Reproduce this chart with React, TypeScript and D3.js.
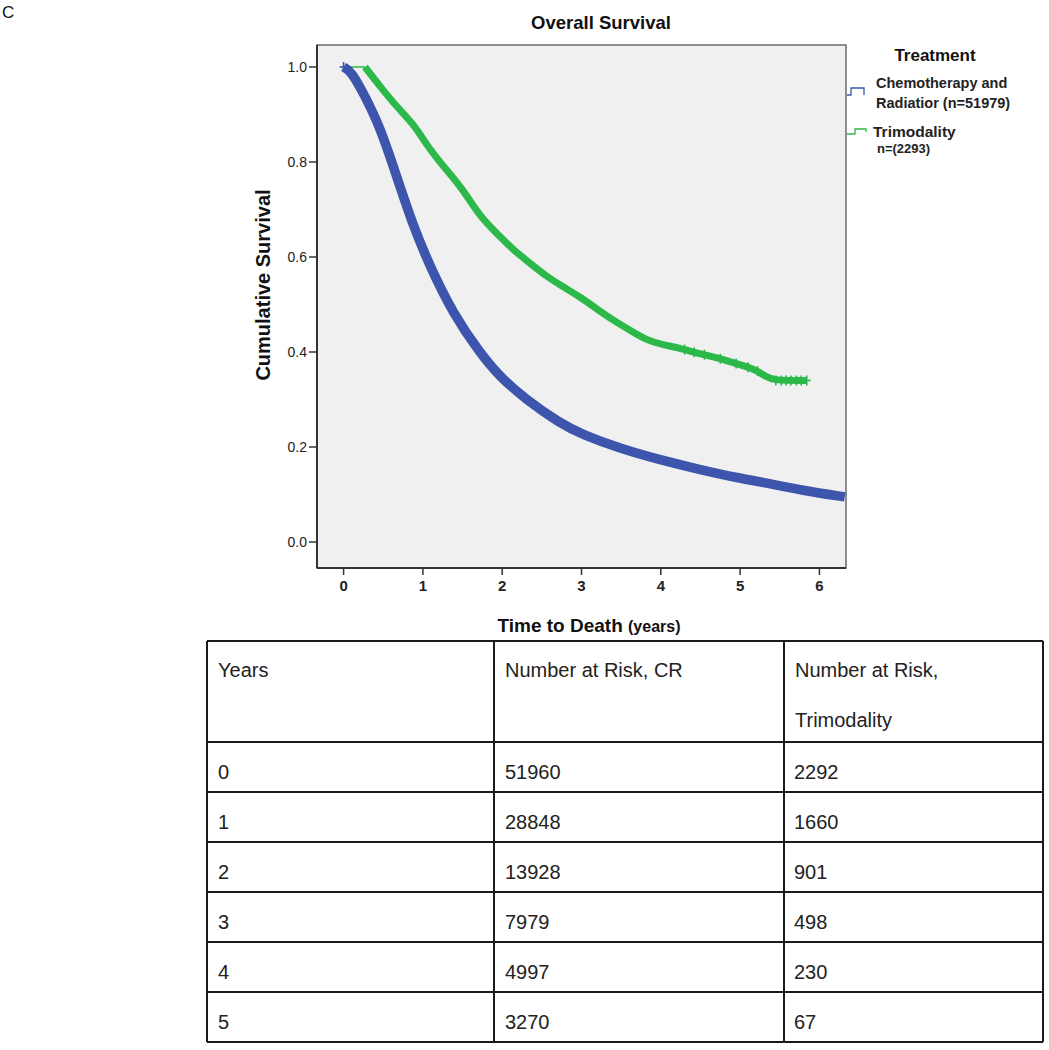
import React from 'react';
import * as d3 from 'd3';

// survival curves: [years, cumulative survival]
const crCurve: [number, number][] = [
  [0, 1.0], [0.1, 0.99], [0.25, 0.945], [0.46, 0.874], [0.67, 0.769], [0.88, 0.664],
  [1.09, 0.58], [1.38, 0.481], [1.72, 0.398], [1.97, 0.348], [2.3, 0.3], [2.73, 0.25],
  [3.0, 0.227], [3.5, 0.196], [3.99, 0.173], [4.5, 0.152], [5.0, 0.134], [5.25, 0.127],
  [5.8, 0.108], [6.32, 0.095],
];

const triLead: [number, number][] = [[0, 1.0], [0.27, 1.0]];

const triCurve: [number, number][] = [
  [0.27, 1.0], [0.46, 0.959], [0.67, 0.916], [0.88, 0.881], [1.09, 0.825], [1.3, 0.783],
  [1.51, 0.741], [1.72, 0.685], [1.93, 0.65], [2.14, 0.615], [2.35, 0.587], [2.56, 0.559],
  [2.77, 0.537], [2.98, 0.516], [3.2, 0.49], [3.4, 0.467], [3.62, 0.445], [3.82, 0.425],
  [4.03, 0.415], [4.24, 0.408], [4.45, 0.398], [4.66, 0.39], [4.87, 0.38], [5.08, 0.369],
  [5.2, 0.362], [5.33, 0.348], [5.42, 0.34], [5.84, 0.34],
];

// censor marks visible along the trimodality tail
const triCensor = [4.3, 4.42, 4.55, 4.75, 4.95, 5.1, 5.22, 5.45, 5.52, 5.58, 5.64, 5.71, 5.77, 5.84];

const xTicks = [0, 1, 2, 3, 4, 5, 6];
const yTicks = [0, 0.2, 0.4, 0.6, 0.8, 1.0];

const tableHeader = [['Years'], ['Number at Risk, CR'], ['Number at Risk,', 'Trimodality']];
const years = ['0', '1', '2', '3', '4', '5'];
const atRiskCR = ['51960', '28848', '13928', '7979', '4997', '3270'];
const atRiskTri = ['2292', '1660', '901', '498', '230', '67'];

const BLUE = '#3d55ad';
const GREEN = '#2db84a';
const FONT = 'Arial, "Liberation Sans", sans-serif';

const plot = { left: 317, right: 846, top: 45, bottom: 568 };

const x = d3.scaleLinear().domain([0, 6]).range([343.6, 819.4]);
const y = d3.scaleLinear().domain([0, 1]).range([542, 67]);

const line = d3
  .line<[number, number]>()
  .x((d) => x(d[0]))
  .y((d) => y(d[1]))
  .curve(d3.curveBasis);

const stepLine = d3
  .line<[number, number]>()
  .x((d) => x(d[0]))
  .y((d) => y(d[1]));

const survAt = (curve: [number, number][], t: number) => {
  const i = d3.bisector((d: [number, number]) => d[0]).left(curve, t);
  if (i <= 0) return curve[0][1];
  if (i >= curve.length) return curve[curve.length - 1][1];
  const a = curve[i - 1];
  const b = curve[i];
  return a[1] + ((t - a[0]) / (b[0] - a[0])) * (b[1] - a[1]);
};

const cols = [207, 494, 784, 1043];
const tableTop = 641;
const headerH = 101;
const rowH = 50;

const App = () => {
  const rowTops = years.map((_, i) => tableTop + headerH + i * rowH);
  const tableBottom = tableTop + headerH + years.length * rowH;

  return (
    <svg
      width={1049}
      height={1050}
      style={{ position: 'absolute', left: 0, top: 0, background: '#fff' }}
      fontFamily={FONT}
    >
      <text x={2} y={18} fontSize={17} fill="#111">C</text>

      <text x={601} y={29} textAnchor="middle" fontSize={18.5} fontWeight="bold" fill="#111">
        Overall Survival
      </text>

      {/* plot area */}
      <rect
        x={plot.left}
        y={plot.top}
        width={plot.right - plot.left}
        height={plot.bottom - plot.top}
        fill="#f0f0f0"
        stroke="#6a6a6a"
        strokeWidth={1.5}
      />
      <line x1={plot.left} x2={plot.left} y1={plot.top} y2={plot.bottom} stroke="#333" strokeWidth={2} />
      <line x1={plot.left} x2={plot.right} y1={plot.bottom} y2={plot.bottom} stroke="#333" strokeWidth={2} />

      {yTicks.map((t) => (
        <g key={`y${t}`}>
          <line x1={plot.left - 8} x2={plot.left} y1={y(t)} y2={y(t)} stroke="#333" strokeWidth={1.5} />
          <text x={plot.left - 10} y={y(t) + 5} textAnchor="end" fontSize={14} fill="#222">
            {d3.format('.1f')(t)}
          </text>
        </g>
      ))}
      {xTicks.map((t) => (
        <g key={`x${t}`}>
          <line x1={x(t)} x2={x(t)} y1={plot.bottom} y2={plot.bottom + 7} stroke="#333" strokeWidth={1.5} />
          <text x={x(t)} y={plot.bottom + 23} textAnchor="middle" fontSize={15} fontWeight="bold" fill="#222">
            {t}
          </text>
        </g>
      ))}

      <text
        transform="translate(270,285) rotate(-90)"
        textAnchor="middle"
        fontSize={20}
        fontWeight="bold"
        fill="#111"
      >
        Cumulative Survival
      </text>
      <text x={589} y={632} textAnchor="middle" fontWeight="bold" fill="#111">
        <tspan fontSize={19}>Time to Death </tspan>
        <tspan fontSize={16}>(years)</tspan>
      </text>

      {/* curves */}
      <defs>
        <clipPath id="plotClip">
          <rect x={plot.left} y={plot.top} width={plot.right - plot.left} height={plot.bottom - plot.top} />
        </clipPath>
      </defs>
      <g clipPath="url(#plotClip)">
        <path d={stepLine(triLead) || ''} fill="none" stroke={GREEN} strokeWidth={1.5} />
        <path d={line(triCurve) || ''} fill="none" stroke={GREEN} strokeWidth={7} />
        {triCensor.map((t) => {
          const cx = x(t);
          const cy = y(survAt(triCurve, t));
          return (
            <g key={`c${t}`} stroke={GREEN} strokeWidth={1.6}>
              <line x1={cx - 4} x2={cx + 4} y1={cy} y2={cy} />
              <line x1={cx} x2={cx} y1={cy - 5} y2={cy + 5} />
            </g>
          );
        })}
        <path d={line(crCurve) || ''} fill="none" stroke={BLUE} strokeWidth={9.5} />
        <g stroke={BLUE} strokeWidth={1.6}>
          <line x1={x(0) - 4} x2={x(0) + 4} y1={y(1)} y2={y(1)} />
          <line x1={x(0)} x2={x(0)} y1={y(1) - 5} y2={y(1) + 5} />
        </g>
      </g>

      {/* legend */}
      <text x={935} y={61} textAnchor="middle" fontSize={17} fontWeight="bold" fill="#111">
        Treatment
      </text>
      <path d="M847,95 H851 V88 H864 V95" fill="none" stroke={BLUE} strokeWidth={1.3} />
      <text x={876} y={88} fontSize={14.5} fontWeight="bold" fill="#222">Chemotherapy and</text>
      <text x={876} y={108} fontSize={14.5} fontWeight="bold" fill="#222">Radiatior (n=51979)</text>
      <path d="M847,134 H855 V129 H866 V132" fill="none" stroke={GREEN} strokeWidth={1.3} />
      <text x={873} y={137} fontSize={15.5} fontWeight="bold" fill="#222">Trimodality</text>
      <text x={877} y={153} fontSize={13} fontWeight="bold" fill="#222">n=(2293)</text>

      {/* number at risk table */}
      <g stroke="#1a1a1a" strokeWidth={2}>
        <line x1={cols[0]} x2={cols[3]} y1={tableTop} y2={tableTop} />
        {rowTops.map((ry) => (
          <line key={`r${ry}`} x1={cols[0]} x2={cols[3]} y1={ry} y2={ry} />
        ))}
        <line x1={cols[0]} x2={cols[3]} y1={tableBottom} y2={tableBottom} />
        {cols.map((cx) => (
          <line key={`v${cx}`} x1={cx} x2={cx} y1={tableTop} y2={tableBottom} />
        ))}
      </g>
      {tableHeader.map((lines, ci) =>
        lines.map((txt, li) => (
          <text key={`h${ci}${li}`} x={cols[ci] + 11} y={tableTop + 36 + li * 50} fontSize={20} fill="#222">
            {txt}
          </text>
        ))
      )}
      {rowTops.map((ry, i) => (
        <g key={`row${i}`} fontSize={20} fill="#222">
          <text x={cols[0] + 11} y={ry + 37}>{years[i]}</text>
          <text x={cols[1] + 11} y={ry + 37}>{atRiskCR[i]}</text>
          <text x={cols[2] + 10} y={ry + 37}>{atRiskTri[i]}</text>
        </g>
      ))}
    </svg>
  );
};

export default App;
